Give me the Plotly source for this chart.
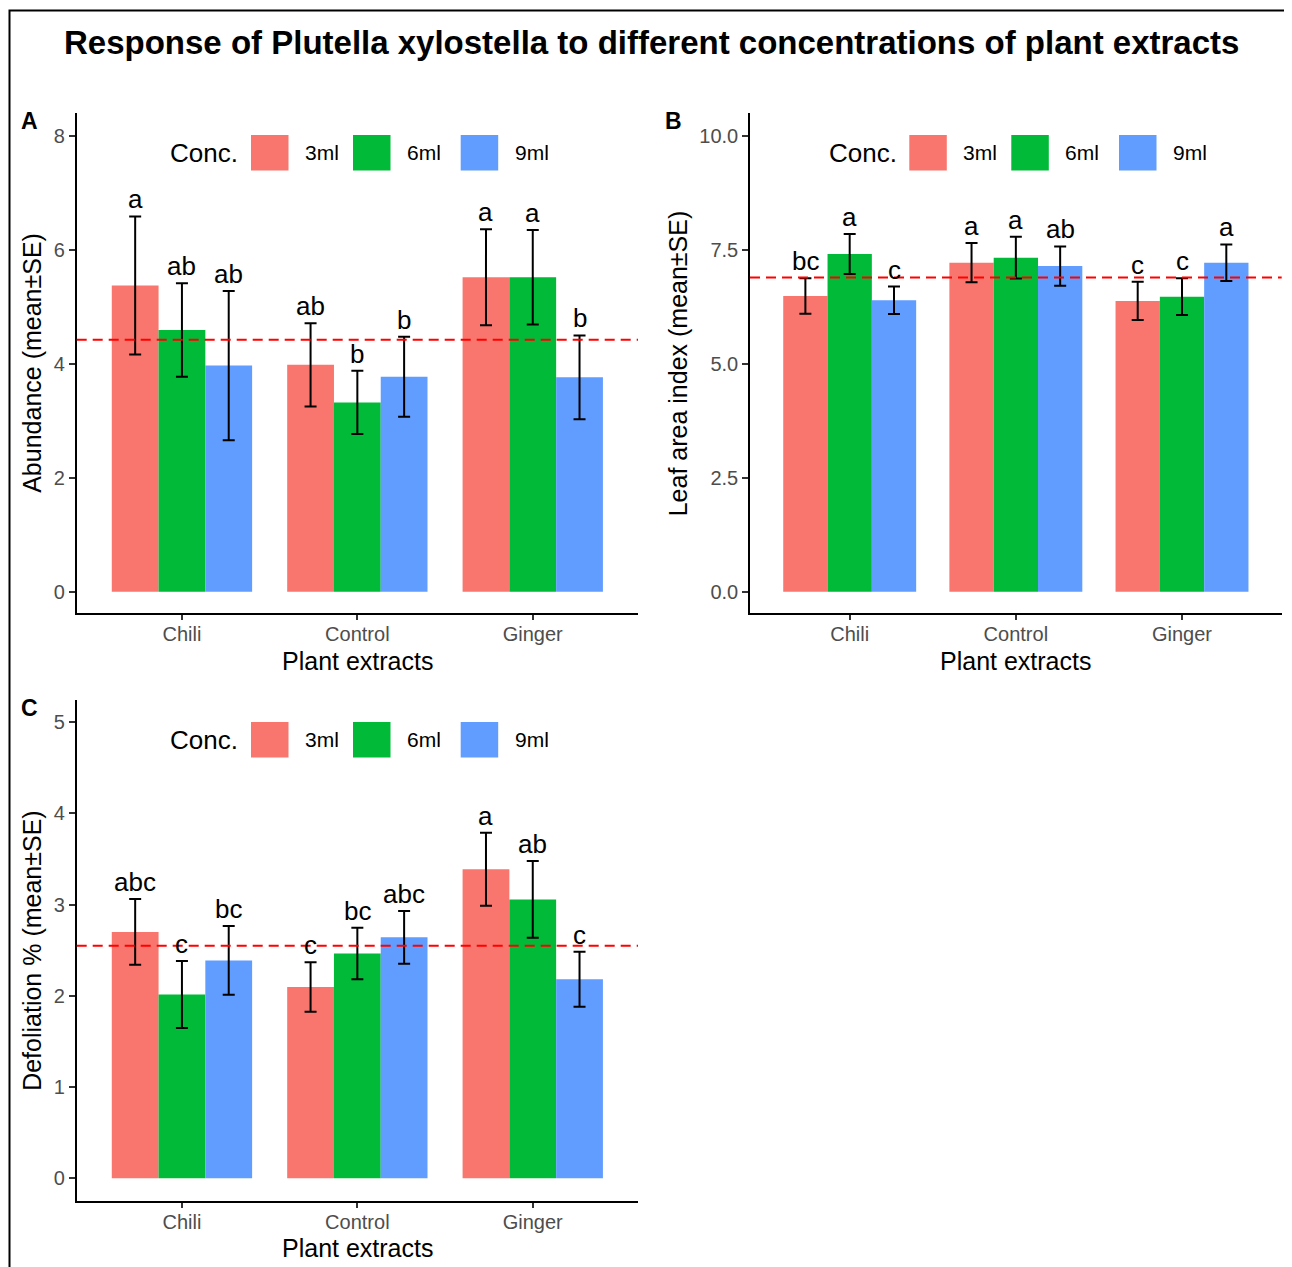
import numpy as np
import plotly.graph_objects as go

W, H = 1292, 1267
PAGE_OFF = 8            # default body margin of the html page
FIG_W, FIG_H = W - PAGE_OFF, H - PAGE_OFF

# ---------------- data ----------------
extracts = ["Chili", "Control", "Ginger"]
concs = ["3ml", "6ml", "9ml"]
colors = ["#F8766D", "#00BA38", "#619CFF"]

# Panel A: Abundance (mean ± SE); one list per concentration, ordered by extract
abund_mean_3ml = [5.37, 3.98, 5.515]
abund_mean_6ml = [4.59, 3.32, 5.515]
abund_mean_9ml = [3.965, 3.77, 3.76]
abund_se_3ml = [1.21, 0.73, 0.84]
abund_se_6ml = [0.82, 0.555, 0.83]
abund_se_9ml = [1.31, 0.70, 0.735]
abund_let_3ml = ["a", "ab", "a"]
abund_let_6ml = ["ab", "b", "a"]
abund_let_9ml = ["ab", "b", "b"]

# Panel B: Leaf area index (mean ± SE)
lai_mean_3ml = [6.485, 7.215, 6.375]
lai_mean_6ml = [7.405, 7.325, 6.47]
lai_mean_9ml = [6.39, 7.14, 7.215]
lai_se_3ml = [0.39, 0.43, 0.42]
lai_se_6ml = [0.44, 0.46, 0.405]
lai_se_9ml = [0.30, 0.43, 0.40]
lai_let_3ml = ["bc", "a", "c"]
lai_let_6ml = ["a", "a", "c"]
lai_let_9ml = ["c", "ab", "a"]

# Panel C: Defoliation % (mean ± SE)
defol_mean_3ml = [2.70, 2.096, 3.387]
defol_mean_6ml = [2.015, 2.463, 3.056]
defol_mean_9ml = [2.387, 2.64, 2.181]
defol_se_3ml = [0.36, 0.27, 0.40]
defol_se_6ml = [0.367, 0.283, 0.42]
defol_se_9ml = [0.377, 0.29, 0.30]
defol_let_3ml = ["abc", "c", "a"]
defol_let_6ml = ["c", "bc", "ab"]
defol_let_9ml = ["bc", "abc", "c"]

abund_ticks = [0, 2, 4, 6, 8]
lai_ticks = [0, 2.5, 5, 7.5, 10]
lai_ticktext = ["0.0", "2.5", "5.0", "7.5", "10.0"]
defol_ticks = [0, 1, 2, 3, 4, 5]

FONT = "Liberation Sans, Arial, sans-serif"
TICKCOL = "#4D4D4D"


def fx(p):
    return (p - PAGE_OFF) / FIG_W


def fy(p):
    return 1 - (p - PAGE_OFF) / FIG_H


panels = [
    dict(ax="", label="A", ytitle="Abundance (mean±SE)",
         means=[abund_mean_3ml, abund_mean_6ml, abund_mean_9ml],
         ses=[abund_se_3ml, abund_se_6ml, abund_se_9ml],
         lets=[abund_let_3ml, abund_let_6ml, abund_let_9ml],
         ticks=abund_ticks, ticktext=[str(t) for t in abund_ticks],
         yrange=[-0.379, 8.39],
         xpx=(76.7, 638.0), ypx=(113.3, 613.3), leg_dx=0, leg_y=152.8,
         letter_pos=(30, 121), ytitle_x=32.5, xtitle_y=661),
    dict(ax="2", label="B", ytitle="Leaf area index (mean±SE)",
         means=[lai_mean_3ml, lai_mean_6ml, lai_mean_9ml],
         ses=[lai_se_3ml, lai_se_6ml, lai_se_9ml],
         lets=[lai_let_3ml, lai_let_6ml, lai_let_9ml],
         ticks=lai_ticks, ticktext=lai_ticktext,
         yrange=[-0.474, 10.49],
         xpx=(750.0, 1281.7), ypx=(113.3, 613.3), leg_dx=658.3, leg_y=152.8,
         letter_pos=(673, 121), ytitle_x=678, xtitle_y=661),
    dict(ax="3", label="C", ytitle="Defoliation % (mean±SE)",
         means=[defol_mean_3ml, defol_mean_6ml, defol_mean_9ml],
         ses=[defol_se_3ml, defol_se_6ml, defol_se_9ml],
         lets=[defol_let_3ml, defol_let_6ml, defol_let_9ml],
         ticks=defol_ticks, ticktext=[str(t) for t in defol_ticks],
         yrange=[-0.2466, 5.242],
         xpx=(76.7, 638.0), ypx=(699.9, 1200.8), leg_dx=0, leg_y=739.7,
         letter_pos=(30, 708), ytitle_x=32.5, xtitle_y=1248),
]

fig = go.Figure()
shapes = []
annotations = []

BARGAP = 0.2
ngroups = len(concs)
bar_w = (1 - BARGAP) / ngroups
xpos = np.arange(len(extracts))

layout_axes = {}
for p in panels:
    xa = "x" + p["ax"]
    ya = "y" + p["ax"]
    for j, c in enumerate(concs):
        fig.add_trace(go.Bar(
            x=xpos, y=p["means"][j], name=c,
            marker=dict(color=colors[j], line=dict(width=0)),
            error_y=dict(type="data", array=p["ses"][j], color="black",
                         thickness=2, width=6),
            xaxis=xa, yaxis=ya, showlegend=False, offsetgroup=c,
        ))
        # significance letters above error bars
        for i in range(len(extracts)):
            annotations.append(dict(
                x=xpos[i] + (j - (ngroups - 1) / 2) * bar_w,
                y=p["means"][j][i] + p["ses"][j][i],
                xref=xa, yref=ya, text=p["lets"][j][i], showarrow=False,
                yanchor="bottom", xanchor="center", yshift=0,
                font=dict(family=FONT, size=26, color="black"),
            ))
    # overall mean reference line
    grand = float(np.mean(np.concatenate(p["means"])))
    shapes.append(dict(type="line", xref=xa + " domain", yref=ya,
                       x0=0, x1=1, y0=grand, y1=grand, layer="above",
                       line=dict(color="red", width=2, dash="10px,6px")))

    xname = "xaxis" + p["ax"]
    yname = "yaxis" + p["ax"]
    layout_axes[xname] = dict(
        domain=[fx(p["xpx"][0]), fx(p["xpx"][1])], anchor=ya,
        range=[-0.6, 2.6], tickvals=list(xpos), ticktext=extracts,
        showline=True, linecolor="black", linewidth=1.5, ticks="outside",
        ticklen=5, tickwidth=1.5, tickcolor="#333333", showgrid=False,
        ticklabelstandoff=-3,
        zeroline=False, tickfont=dict(family=FONT, size=20, color=TICKCOL),
    )
    layout_axes[yname] = dict(
        domain=[fy(p["ypx"][1]), fy(p["ypx"][0])], anchor=xa,
        range=p["yrange"], tickvals=p["ticks"], ticktext=p["ticktext"],
        showline=True, linecolor="black", linewidth=1.5, ticks="outside",
        ticklen=6, tickwidth=1.5, tickcolor="#333333", showgrid=False,
        zeroline=False, tickfont=dict(family=FONT, size=20, color=TICKCOL),
    )

    # axis titles
    xc = (p["xpx"][0] + p["xpx"][1]) / 2
    yc = (p["ypx"][0] + p["ypx"][1]) / 2
    annotations.append(dict(x=fx(xc), y=fy(p["xtitle_y"]), xref="paper", yref="paper",
                            text="Plant extracts", showarrow=False,
                            xanchor="center", yanchor="middle",
                            font=dict(family=FONT, size=25, color="black")))
    annotations.append(dict(x=fx(p["ytitle_x"]), y=fy(yc), xref="paper", yref="paper",
                            text=p["ytitle"], showarrow=False, textangle=-90,
                            xanchor="center", yanchor="middle",
                            font=dict(family=FONT, size=25, color="black")))
    # panel letter
    annotations.append(dict(x=fx(p["letter_pos"][0]), y=fy(p["letter_pos"][1]),
                            xref="paper", yref="paper", text="<b>%s</b>" % p["label"],
                            showarrow=False, xanchor="center", yanchor="middle",
                            font=dict(family=FONT, size=23, color="black")))

    # legend inside panel (drawn as keys + labels)
    dx = p["leg_dx"]
    ly = p["leg_y"]
    annotations.append(dict(x=fx(168.3 + dx), y=fy(ly), xref="paper", yref="paper",
                            text="Conc.", showarrow=False, xanchor="left",
                            yanchor="middle",
                            font=dict(family=FONT, size=26, color="black")))
    key_left = [251.0, 353.0, 460.7]
    for j, c in enumerate(concs):
        kx = key_left[j] + dx
        shapes.append(dict(type="rect", xref="paper", yref="paper",
                           x0=fx(kx), x1=fx(kx + 37.5),
                           y0=fy(ly + 17.8), y1=fy(ly - 17.8),
                           fillcolor=colors[j], line=dict(width=0)))
        annotations.append(dict(x=fx(kx + 52), y=fy(ly), xref="paper", yref="paper",
                                text=c, showarrow=False, xanchor="left",
                                yanchor="middle",
                                font=dict(family=FONT, size=21, color="black")))

# overall title
annotations.append(dict(x=fx(652), y=fy(43), xref="paper", yref="paper",
                        text="<b>Response of Plutella xylostella to different concentrations of plant extracts</b>",
                        showarrow=False, xanchor="center", yanchor="middle",
                        font=dict(family=FONT, size=33, color="black")))

# figure border (frame continues beyond the right and bottom edges)
shapes.append(dict(type="rect", xref="paper", yref="paper",
                   x0=fx(9.5), x1=fx(1320), y0=fy(1320), y1=fy(10.5),
                   line=dict(color="black", width=2), fillcolor="rgba(0,0,0,0)"))

fig.update_layout(
    width=FIG_W, height=FIG_H, autosize=False,
    margin=dict(l=0, r=0, t=0, b=0),
    paper_bgcolor="white", plot_bgcolor="white",
    barmode="group", bargap=BARGAP, bargroupgap=0,
    showlegend=False,
    shapes=shapes, annotations=annotations,
    font=dict(family=FONT),
    **layout_axes,
)

fig.write_html("out.html")
